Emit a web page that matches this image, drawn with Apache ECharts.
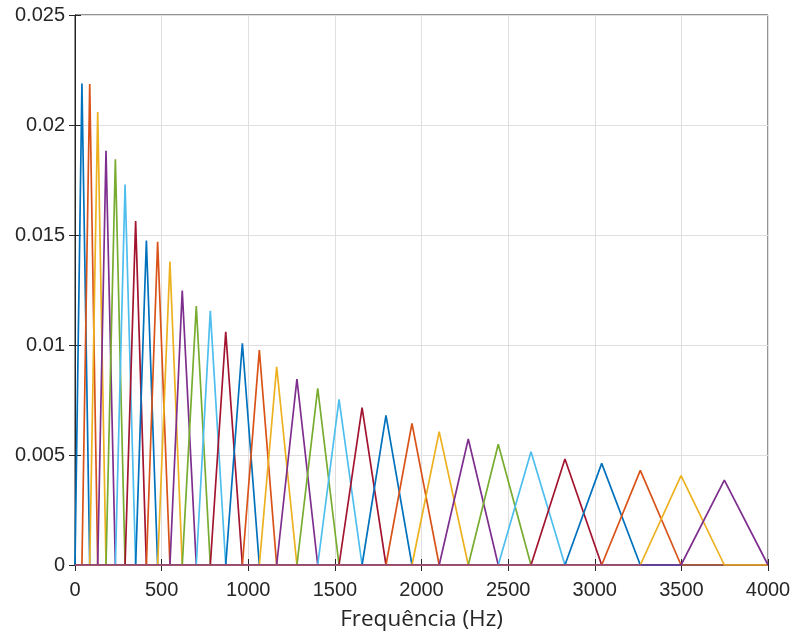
<!DOCTYPE html>
<html>
<head>
<meta charset="utf-8">
<script src="https://cdn.jsdelivr.net/npm/echarts@6/dist/echarts.min.js"></script>
<style>html,body{margin:0;padding:0;background:#fff}#c{width:795px;height:632px}</style>
</head>
<body>
<div id="c"></div>
<script>
// Filter peak centre frequencies (Hz)
const peakFreqs = [40, 85, 131, 179, 233, 289, 350, 412, 477, 548, 619, 700, 781, 870, 966, 1064,
  1164, 1281, 1401, 1524, 1657, 1795, 1945, 2102, 2270, 2443, 2632, 2828, 3040, 3263, 3498, 3748];
// Filter peak heights
const peakHeights = [0.02189, 0.02186, 0.02059, 0.01883, 0.01844, 0.01730, 0.01564, 0.01475, 0.01469,
  0.01379, 0.01247, 0.01177, 0.01155, 0.01060, 0.01008, 0.00977, 0.00901, 0.00845, 0.00803, 0.00753,
  0.00715, 0.00680, 0.00644, 0.00606, 0.00573, 0.00549, 0.00515, 0.00482, 0.00462, 0.00430, 0.00406, 0.00386];
const freqStart = 0;
const freqEnd = 4000;
const xTicks = [0, 500, 1000, 1500, 2000, 2500, 3000, 3500, 4000];
const yTicks = [0, 0.005, 0.01, 0.015, 0.02, 0.025];
const palette = ['#0072BD', '#D95319', '#EDB120', '#7E2F8E', '#77AC30', '#4DBEEE', '#A2142F'];

const edges = [freqStart].concat(peakFreqs, [freqEnd]);
const series = peakFreqs.map((f, i) => {
  const pts = [];
  if (edges[i] > freqStart) pts.push([freqStart, 0]);
  pts.push([edges[i], 0]);
  pts.push([f, peakHeights[i]]);
  pts.push([edges[i + 2], 0]);
  if (edges[i + 2] < freqEnd) pts.push([freqEnd, 0]);
  return {
    type: 'line', data: pts, showSymbol: false, symbol: 'none',
    lineStyle: { width: 1.7, color: palette[i % palette.length] },
    itemStyle: { color: palette[i % palette.length] },
    animation: false, z: 2 + i, xAxisIndex: 0, yAxisIndex: 0
  };
});

const fontFam = 'Liberation Sans, Arial, sans-serif';
const chart = echarts.init(document.getElementById('c'), null, { renderer: 'canvas' });
chart.setOption({
  animation: false,
  backgroundColor: '#fff',
  grid: { left: 75, right: 27, top: 15, bottom: 67, outerBoundsMode: 'none', containLabel: false,
    show: true, borderColor: '#262626', borderWidth: 1, backgroundColor: 'transparent' },
  xAxis: [{
    type: 'value', min: xTicks[0], max: xTicks[xTicks.length - 1], interval: 500,
    name: 'Frequência (Hz)', nameLocation: 'middle', nameGap: 43,
    nameTextStyle: { fontFamily: 'Open Sans, Noto Sans, sans-serif', fontSize: 22.5, color: '#262626' },
    axisLine: { show: true, lineStyle: { color: '#262626' } },
    axisTick: { show: true, inside: true, length: 6, lineStyle: { color: '#262626' } },
    axisLabel: { margin: 15, fontFamily: fontFam, fontSize: 20, color: '#262626',
      formatter: v => String(v) },
    splitLine: { show: true, lineStyle: { color: '#dfdfdf', width: 1 } }
  }, {
    type: 'value', position: 'top', min: xTicks[0], max: xTicks[xTicks.length - 1], interval: 500,
    axisLine: { show: true, lineStyle: { color: '#262626' } },
    axisTick: { show: true, inside: true, length: 6, lineStyle: { color: '#262626' } },
    axisLabel: { show: false }, splitLine: { show: false }
  }],
  yAxis: [{
    type: 'value', min: yTicks[0], max: yTicks[yTicks.length - 1], interval: 0.005,
    axisLine: { show: true, lineStyle: { color: '#262626' } },
    axisTick: { show: true, inside: true, length: 6, lineStyle: { color: '#262626' } },
    axisLabel: { margin: 10, fontFamily: fontFam, fontSize: 20, color: '#262626',
      formatter: v => (Math.round(v * 1000) / 1000).toString() },
    splitLine: { show: true, lineStyle: { color: '#dfdfdf', width: 1 } }
  }, {
    type: 'value', position: 'right', min: yTicks[0], max: yTicks[yTicks.length - 1], interval: 0.005,
    axisLine: { show: true, lineStyle: { color: '#262626' } },
    axisTick: { show: true, inside: true, length: 6, lineStyle: { color: '#262626' } },
    axisLabel: { show: false }, splitLine: { show: false }
  }],
  series: series
});
</script>
</body>
</html>
